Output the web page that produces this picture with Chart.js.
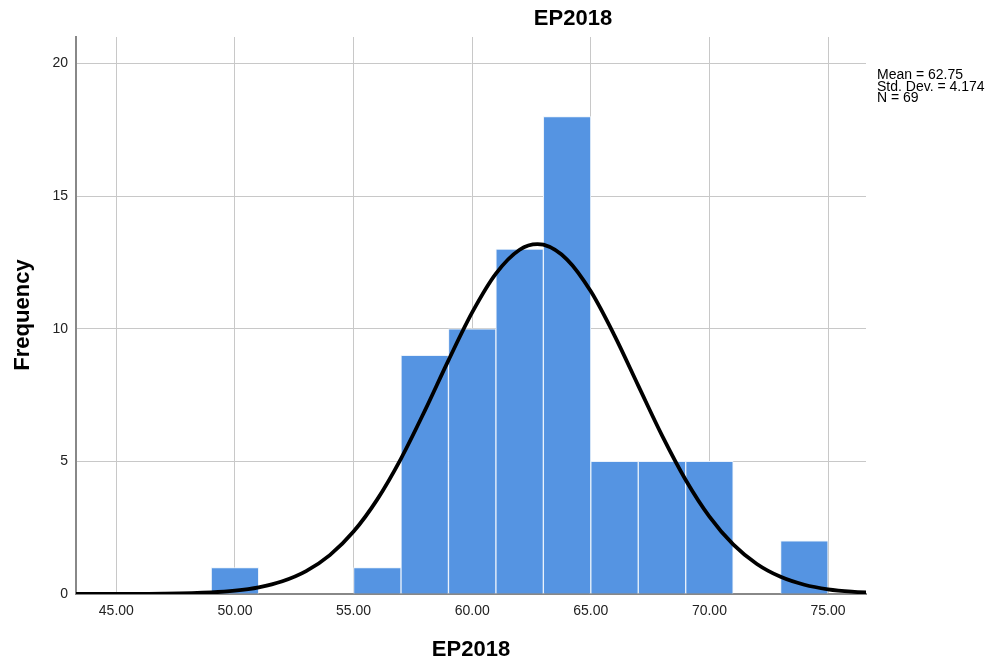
<!DOCTYPE html>
<html>
<head>
<meta charset="utf-8">
<script src="https://cdn.jsdelivr.net/npm/chart.js@4/dist/chart.umd.min.js"></script>
<style>
  body { margin: 0; background: #fff; }
  canvas { display: block; }
</style>
</head>
<body>
<canvas id="chart" width="995" height="667"></canvas>
<script>
// Histogram bins (bin centre, width 2) and counts
const BIN_CENTERS = [50, 56, 58, 60, 62, 64, 66, 68, 70, 74];
const BIN_COUNTS  = [1, 1, 9, 10, 13, 18, 5, 5, 5, 2];

// Normal curve
const CURVE_X = [43, 45, 47, 49, 50, 51, 52, 53, 54, 55, 56, 57, 58, 59, 60, 61, 62, 62.75,
                 63, 64, 65, 66, 67, 68, 69, 70, 71, 72, 73, 74, 75, 76, 77];
const CURVE_Y = [0.0, 0.002, 0.011, 0.058, 0.124, 0.251, 0.479, 0.862, 1.466, 2.353, 3.568,
                 5.107, 6.904, 8.81, 10.617, 12.08, 12.98, 13.19,
                 13.17, 12.61, 11.41, 9.74, 7.855, 5.98, 4.30, 2.918, 1.870, 1.132, 0.647,
                 0.349, 0.178, 0.086, 0.039];

const X_TICKS = [45, 50, 55, 60, 65, 70, 75];
const Y_TICKS = [0, 5, 10, 15, 20];

const TITLE = 'EP2018';
const X_TITLE = 'EP2018';
const Y_TITLE = 'Frequency';
const STATS = ['Mean = 62.75', 'Std. Dev. = 4.174', 'N = 69'];

const FONT = '"Liberation Sans", Arial, sans-serif';

const textPlugin = {
  id: 'texts',
  afterDraw(chart) {
    const ctx = chart.ctx;
    ctx.save();
    ctx.fillStyle = '#000';
    ctx.font = 'bold 22px ' + FONT;
    ctx.textAlign = 'center';
    ctx.textBaseline = 'middle';
    ctx.fillText(TITLE, 573, 19);
    ctx.fillText(X_TITLE, 471, 650);

    ctx.save();
    ctx.translate(23, 315);
    ctx.rotate(-Math.PI / 2);
    ctx.fillText(Y_TITLE, 0, 0);
    ctx.restore();

    ctx.font = '14px ' + FONT;
    ctx.textAlign = 'left';
    ctx.textBaseline = 'alphabetic';
    STATS.forEach((s, i) => ctx.fillText(s, 877, 79 + i * 11.5));
    ctx.restore();
  }
};

new Chart(document.getElementById('chart'), {
  type: 'bar',
  data: {
    datasets: [
      {
        type: 'line',
        order: 0,
        data: CURVE_X.map((x, i) => ({x, y: CURVE_Y[i]})),
        borderColor: '#000',
        borderWidth: 3.8,
        pointRadius: 0,
        cubicInterpolationMode: 'monotone',
        fill: false
      },
      {
        type: 'bar',
        order: 1,
        data: BIN_CENTERS.map((x, i) => ({x, y: BIN_COUNTS[i]})),
        backgroundColor: '#5594e2',
        borderColor: '#eaf2fb',
        borderWidth: 1,
        borderSkipped: 'start',
        barPercentage: 1,
        categoryPercentage: 1
      }
    ]
  },
  options: {
    responsive: false,
    animation: false,
    layout: { padding: { top: 37, right: 129, bottom: 0, left: 0 } },
    plugins: {
      legend: { display: false },
      tooltip: { enabled: false },
      title: { display: false }
    },
    scales: {
      x: {
        type: 'linear',
        min: 43.3,
        max: 76.6,
        offset: false,
        afterFit: s => { s.height = 73; },
        afterBuildTicks: s => { s.ticks = X_TICKS.map(v => ({value: v})); },
        ticks: {
          color: '#222',
          font: { family: FONT, size: 14 },
          padding: 9,
          maxRotation: 0,
          callback: v => v.toFixed(2)
        },
        grid: { color: '#c8c8c8', lineWidth: 1, drawTicks: false, offset: false },
        border: { display: true, color: '#888', width: 2 }
      },
      y: {
        type: 'linear',
        min: 0,
        max: 21,
        afterFit: s => { s.width = 76; },
        afterBuildTicks: s => { s.ticks = Y_TICKS.map(v => ({value: v})); },
        ticks: {
          color: '#222',
          font: { family: FONT, size: 14 },
          padding: 8
        },
        grid: { color: '#c8c8c8', lineWidth: 1, drawTicks: false },
        border: { display: true, color: '#888', width: 2 }
      }
    }
  },
  plugins: [textPlugin]
});
</script>
</body>
</html>
